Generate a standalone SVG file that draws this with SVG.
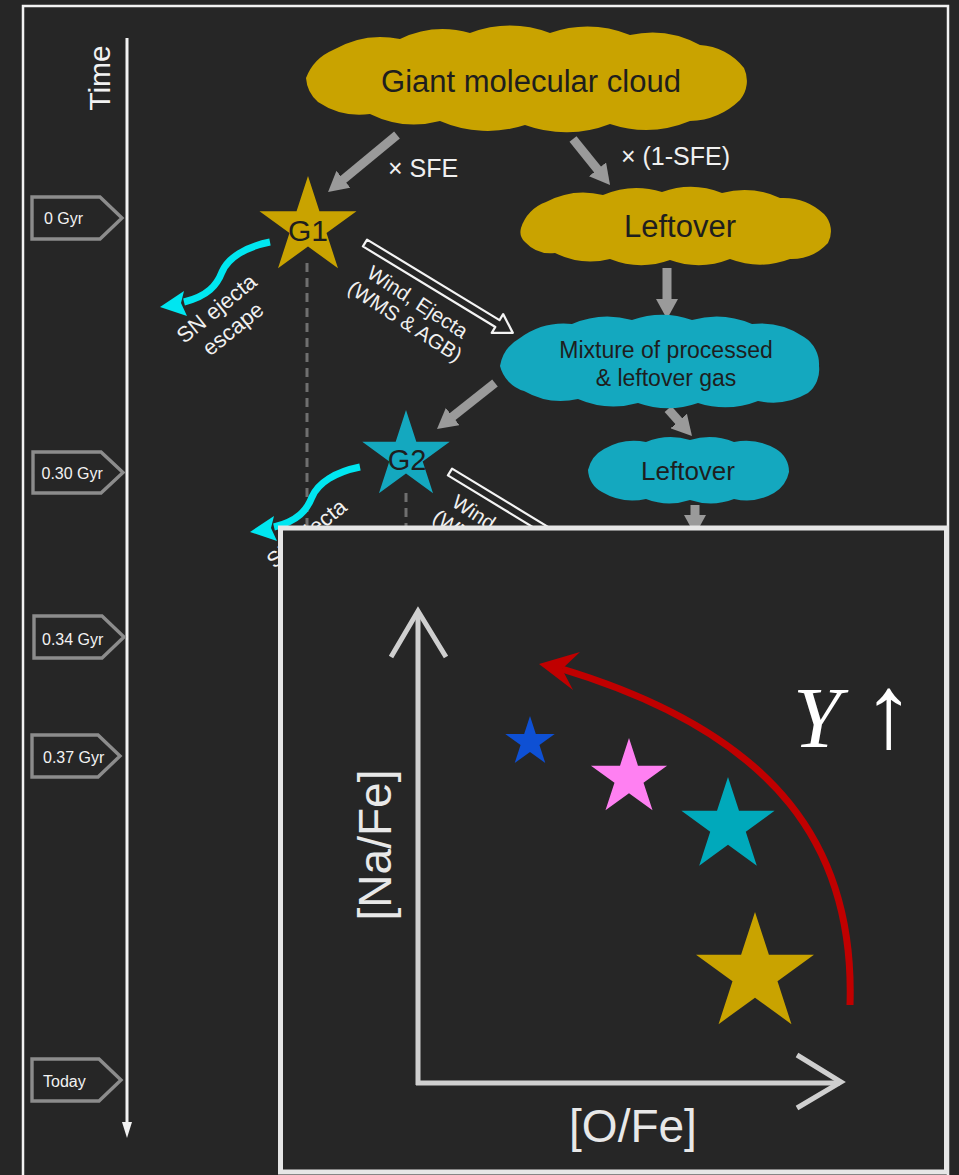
<svg xmlns="http://www.w3.org/2000/svg" width="959" height="1175" viewBox="0 0 959 1175">
<defs>
<style>
.sans{font-family:"Liberation Sans",Arial,sans-serif;}
.tbox{fill:#262626;stroke:#8c8c8c;stroke-width:3.4;stroke-linejoin:miter;}
.tlab{font-family:"Liberation Sans",Arial,sans-serif;font-size:16px;fill:#f2f2f2;}
.gold{fill:#C9A300;}
.teal{fill:#14A8BF;}
.ctext{font-family:"Liberation Sans",Arial,sans-serif;fill:#1e1e1e;text-anchor:middle;}
.gray{stroke:#9a9a9a;stroke-width:9;fill:none;marker-end:url(#gh);}
.hollow{fill:#262626;stroke:#f4f4f4;stroke-width:2.2;stroke-linejoin:round;}
.wl{font-family:"Liberation Sans",Arial,sans-serif;font-size:20.5px;fill:#f0f0f0;text-anchor:middle;}
.sl{font-family:"Liberation Sans",Arial,sans-serif;font-size:22px;fill:#f0f0f0;text-anchor:middle;}
.dash{stroke:#6f6f6f;stroke-width:3;stroke-dasharray:9 6;fill:none;}
.squig{stroke:#00E6F0;stroke-width:7;fill:none;stroke-linecap:butt;}
.axis{stroke:#cfcfcf;stroke-width:5;fill:none;}
</style>
<polygon id="star" points="0,-1 0.2245,-0.309 0.951,-0.309 0.363,0.118 0.588,0.809 0,0.382 -0.588,0.809 -0.363,0.118 -0.951,-0.309 -0.2245,-0.309"/>
<marker id="gh" markerUnits="userSpaceOnUse" markerWidth="20" markerHeight="22" refX="8" refY="11" orient="auto" viewBox="0 0 20 22">
<path d="M0,0 L20,11 L0,22 Z" fill="#9a9a9a"/>
</marker>
</defs>
<rect x="0" y="0" width="959" height="1175" fill="#262626"/>
<rect x="23" y="6" width="925" height="1200" fill="none" stroke="#f2f2f2" stroke-width="2.5"/>

<g id="time-axis">
<line x1="127" y1="38" x2="127" y2="1124" stroke="#f2f2f2" stroke-width="3"/>
<polygon points="122,1122 132,1122 127,1138" fill="#f2f2f2"/>
<text class="sans" transform="translate(110,78) rotate(-90)" text-anchor="middle" font-size="30" fill="#f2f2f2">Time</text>
</g>
<g id="t-0">
<path class="tbox" d="M32,197 H100 L122,218 L100,239 H32 Z"/>
<text class="tlab" x="44" y="224">0 Gyr</text>
</g>
<g id="t-030">
<path class="tbox" d="M33,452 H101 L123,472.5 L101,493 H33 Z"/>
<text class="tlab" x="41.5" y="479">0.30 Gyr</text>
</g>
<g id="t-034">
<path class="tbox" d="M34,616 H102 L124,637 L102,658 H34 Z"/>
<text class="tlab" x="42" y="645">0.34 Gyr</text>
</g>
<g id="t-037">
<path class="tbox" d="M32,735 H98 L120,756 L98,777 H32 Z"/>
<text class="tlab" x="43" y="763">0.37 Gyr</text>
</g>
<g id="t-today">
<path class="tbox" d="M32,1059 H99 L121,1080 L99,1101 H32 Z"/>
<text class="tlab" x="43" y="1087" font-size="17">Today</text>
</g>

<g id="connectors">
<line class="dash" x1="307" y1="263" x2="307" y2="1170"/>
<line class="dash" x1="406" y1="493" x2="406" y2="1170"/>
<line class="gray" x1="397" y1="135" x2="337.3" y2="184.4"/>
<line class="gray" x1="573" y1="139" x2="602.5" y2="175.6"/>
<line class="gray" x1="667" y1="268" x2="667" y2="307"/>
<line class="gray" x1="495" y1="383" x2="446.4" y2="421.5"/>
<line class="gray" x1="668" y1="409" x2="684" y2="427"/>
<line class="gray" x1="695" y1="505" x2="695" y2="523"/>
<path class="hollow" transform="translate(365,243) rotate(31.3)" d="M0,-4 H155 V-11 L173,0 L155,11 V4 H0 Z"/>
<path class="hollow" transform="translate(450,472) rotate(31.3)" d="M0,-4 H155 V-11 L173,0 L155,11 V4 H0 Z"/>
<g id="sn1">
<path class="squig" d="M270,242 C245,247 228,258 222,272 C217,285 208,296 184,302"/>
<polygon points="160,307 184,291 181,303 187,316" fill="#00E6F0"/>
</g>
<use href="#sn1" transform="translate(90,225)"/>
</g>

<g id="labels">
<text class="sans" x="388" y="177" font-size="25" fill="#f0f0f0">× SFE</text>
<text class="sans" x="621" y="165" font-size="25" fill="#f0f0f0">× (1-SFE)</text>
<g id="wind1" transform="translate(411,312) rotate(33)">
<text class="wl" x="0" y="-5">Wind, Ejecta</text>
<text class="wl" x="0" y="18">(WMS &amp; AGB)</text>
</g>
<g id="wind2" transform="translate(496,541) rotate(33)">
<text class="wl" x="0" y="-5">Wind, Ejecta</text>
<text class="wl" x="0" y="18">(WMS &amp; AGB)</text>
</g>
<g id="snlab1" transform="translate(225,319) rotate(-39)">
<text class="sl" x="0" y="-6">SN ejecta</text>
<text class="sl" x="0" y="20">escape</text>
</g>
<g id="snlab2" transform="translate(315,544) rotate(-39)">
<text class="sl" x="0" y="-6">SN ejecta</text>
<text class="sl" x="0" y="20">escape</text>
</g>
</g>

<g id="giant-cloud">
<path class="gold" d="M306,78 A50,50 0 0 1 333,50 A95,95 0 0 1 400,39 A100,100 0 0 1 470,33 A115,115 0 0 1 550,33 A115,115 0 0 1 630,35 A100,100 0 0 1 700,45 A60,60 0 0 1 744,68 A30,30 0 0 1 740,100 A75,75 0 0 1 690,121 A115,115 0 0 1 610,124 A120,120 0 0 1 525,125 A120,120 0 0 1 440,121 A100,100 0 0 1 370,114 A75,75 0 0 1 318,102 A35,35 0 0 1 306,78 Z"/>
<text class="ctext" x="531" y="92" font-size="31">Giant molecular cloud</text>
</g>
<g id="leftover-1">
<path class="gold" d="M521,228 A40,40 0 0 1 546,202 A80,80 0 0 1 603,195 A85,85 0 0 1 662,192 A85,85 0 0 1 722,193 A85,85 0 0 1 780,198 A60,60 0 0 1 824,214 A25,25 0 0 1 828,243 A50,50 0 0 1 790,259 A85,85 0 0 1 730,259 A85,85 0 0 1 670,260 A85,85 0 0 1 610,259 A80,80 0 0 1 555,253 A35,35 0 0 1 525,242 A14,14 0 0 1 521,228 Z"/>
<text class="ctext" x="680" y="237" font-size="31">Leftover</text>
</g>
<g id="mixture">
<path class="teal" d="M500,366 A40,40 0 0 1 520,338 A75,75 0 0 1 572,324 A90,90 0 0 1 632,320 A90,90 0 0 1 692,320 A90,90 0 0 1 752,324 A75,75 0 0 1 804,337 A32,32 0 0 1 819,366 A30,30 0 0 1 808,393 A70,70 0 0 1 758,401 A90,90 0 0 1 698,403 A90,90 0 0 1 638,403 A90,90 0 0 1 578,399 A75,75 0 0 1 524,391 A35,35 0 0 1 500,366 Z"/>
<text class="ctext" x="666" y="358" font-size="23" fill="#0f2c35">Mixture of processed</text>
<text class="ctext" x="666" y="386" font-size="23" fill="#0f2c35">&amp; leftover gas</text>
</g>
<g id="leftover-2">
<path class="teal" d="M588,470 A32,32 0 0 1 604,449 A60,60 0 0 1 646,442 A65,65 0 0 1 690,440 A65,65 0 0 1 734,442 A60,60 0 0 1 776,449 A26,26 0 0 1 789,472 A32,32 0 0 1 774,493 A55,55 0 0 1 734,499 A65,65 0 0 1 690,500 A65,65 0 0 1 646,499 A60,60 0 0 1 602,492 A26,26 0 0 1 588,470 Z"/>
<text class="ctext" x="688" y="480" font-size="26" fill="#0f2c35">Leftover</text>
</g>
<g id="g1">
<use href="#star" class="gold" transform="translate(308,227) scale(51)"/>
<text class="ctext" x="308" y="241" font-size="30">G1</text>
</g>
<g id="g2">
<use href="#star" class="teal" transform="translate(406,456) scale(46)"/>
<text class="ctext" x="407" y="470" font-size="29" fill="#0f2c35">G2</text>
</g>

<g id="inset">
<rect x="280.5" y="528" width="666" height="644" fill="#262626" stroke="#e6e6e6" stroke-width="5"/>
<line class="axis" x1="418" y1="612" x2="418" y2="1085"/>
<line class="axis" x1="416" y1="1083" x2="840" y2="1083"/>
<polyline class="axis" points="391,657 418,611 446,657"/>
<polyline class="axis" points="797,1055 841,1082 797,1108"/>
<text class="sans" transform="translate(391,845) rotate(-90)" text-anchor="middle" font-size="46" fill="#e8e8e8">[Na/Fe]</text>
<text class="sans" x="633" y="1142" text-anchor="middle" font-size="46" fill="#e8e8e8">[O/Fe]</text>
<use href="#star" fill="#0E50D4" transform="translate(530,742) scale(26)"/>
<use href="#star" fill="#FF80F2" transform="translate(629,778) scale(40)"/>
<use href="#star" fill="#00A9BB" transform="translate(728,826) scale(49)"/>
<use href="#star" fill="#C9A300" transform="translate(755,974) scale(62)"/>
<path d="M850,1005 C855,850 780,735 562,669" fill="none" stroke="#C00000" stroke-width="7"/>
<polygon points="539,664 580,652 562,669 573,690" fill="#C00000"/>
<text x="793" y="747" font-family="'Liberation Serif','Times New Roman',serif" font-size="86" fill="#ffffff"><tspan font-style="italic">Y</tspan><tspan dx="22" font-size="104">↑</tspan></text>
</g>
</svg>
